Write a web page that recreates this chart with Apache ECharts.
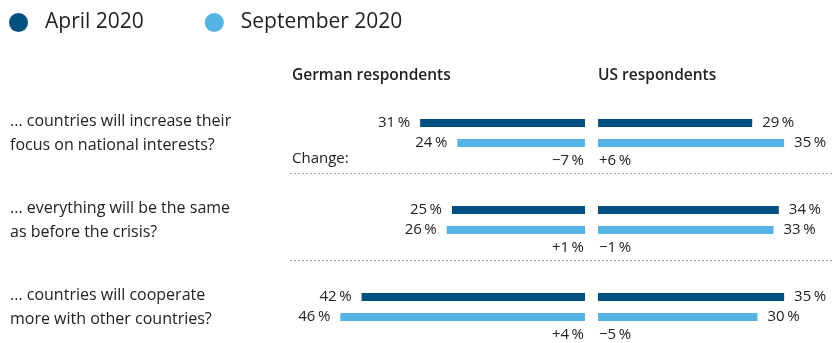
<!DOCTYPE html>
<html>
<head>
<meta charset="utf-8">
<script src="https://cdn.jsdelivr.net/npm/echarts@6/dist/echarts.min.js"></script>
<style>
  html, body { margin: 0; padding: 0; background: #ffffff; }
  #chart { width: 832px; height: 343px; }
</style>
</head>
<body>
<div id="chart"></div>
<script>
// Survey questions (one per row)
const questions = [
  '... countries will increase their\nfocus on national interests?',
  '... everything will be the same\nas before the crisis?',
  '... countries will cooperate\nmore with other countries?'
];
const periods = ['April 2020', 'September 2020'];
const panelTitles = ['German respondents', 'US respondents'];
const changeCaption = 'Change:';

// Shares in percent
const germanApril = [31, 25, 42];
const germanSeptember = [24, 26, 46];
const usApril = [29, 34, 35];
const usSeptember = [35, 33, 30];

const DARK = '#00507f';
const LIGHT = '#56b4e5';
const TEXT = '#222222';
const FONT = '"Open Sans", "Noto Sans", sans-serif';

const pct = v => v + '\u2009%';
const signed = v => (v > 0 ? '+' : v < 0 ? '\u2212' : '') + Math.abs(v) + '\u2009%';
const diff = (a, b) => b.map((v, i) => v - a[i]);
const germanChange = diff(germanApril, germanSeptember);
const usChange = diff(usApril, usSeptember);

const chart = echarts.init(document.getElementById('chart'), null, { renderer: 'canvas' });

// Row centres sit on the category ticks (boundaryGap off)
const firstRow = 133;
const rowStep = 87;
const pxPerPoint = 5.32;
const germanMax = 50;
const usMax = 44;
const germanZero = 585;
const usZero = 598;

function barSeries(name, data, axisIndex, color, side) {
  return {
    type: 'bar',
    name: name,
    xAxisIndex: axisIndex,
    yAxisIndex: axisIndex,
    data: data,
    barWidth: 8,
    barGap: '150%',
    itemStyle: { color: color },
    label: {
      show: true,
      position: side,
      distance: 10,
      formatter: p => pct(p.value),
      color: TEXT,
      fontFamily: FONT,
      fontSize: 15
    },
    silent: true
  };
}

function changeSeries(values, axisIndex, side) {
  return {
    type: 'scatter',
    xAxisIndex: axisIndex,
    yAxisIndex: axisIndex,
    symbolSize: 0,
    data: values.map((v, i) => [0, i, v]),
    label: {
      show: true,
      position: side,
      distance: 1,
      offset: [0, 28],
      formatter: p => signed(p.value[2]),
      color: TEXT,
      opacity: 1,
      fontFamily: FONT,
      fontSize: 15
    },
    silent: true
  };
}

const option = {
  animation: false,
  backgroundColor: '#ffffff',
  textStyle: { fontFamily: FONT },
  legend: {
    data: periods,
    left: 4,
    top: 7,
    icon: 'circle',
    itemWidth: 19,
    itemHeight: 19,
    itemGap: 61,
    selectedMode: false,
    textStyle: { fontSize: 21, color: TEXT, fontFamily: FONT, padding: [0, 0, 0, 12] }
  },
  title: [
    { text: panelTitles[0], left: 287, top: 63, textStyle: { fontSize: 15.5, fontWeight: 600, color: TEXT, fontFamily: FONT } },
    { text: panelTitles[1], left: 593, top: 63, textStyle: { fontSize: 15.5, fontWeight: 600, color: TEXT, fontFamily: FONT } }
  ],
  grid: [
    { left: germanZero - germanMax * pxPerPoint, width: germanMax * pxPerPoint, top: firstRow, height: rowStep * (questions.length - 1) },
    { left: usZero, width: usMax * pxPerPoint - 0.1, top: firstRow, height: rowStep * (questions.length - 1) }
  ],
  xAxis: [
    { type: 'value', gridIndex: 0, min: 0, max: germanMax, inverse: true, show: false },
    { type: 'value', gridIndex: 1, min: 0, max: usMax, show: false }
  ],
  yAxis: [
    {
      type: 'category', gridIndex: 0, data: questions, inverse: true, position: 'left',
      boundaryGap: false,
      axisLine: { show: false }, axisTick: { show: false }, splitLine: { show: false },
      axisLabel: {
        margin: germanZero - germanMax * pxPerPoint - 10,
        align: 'left',
        fontSize: 16,
        lineHeight: 24,
        color: TEXT,
        fontFamily: FONT
      }
    },
    {
      type: 'category', gridIndex: 1, data: questions, inverse: true,
      boundaryGap: false, show: false
    }
  ],
  series: [
    barSeries(periods[0], germanApril, 0, DARK, 'left'),
    barSeries(periods[1], germanSeptember, 0, LIGHT, 'left'),
    barSeries(periods[0], usApril, 1, DARK, 'right'),
    barSeries(periods[1], usSeptember, 1, LIGHT, 'right'),
    changeSeries(germanChange, 0, 'left'),
    changeSeries(usChange, 1, 'right')
  ]
};

chart.setOption(option);

// Caption for the change row and dashed separators between question blocks
function drawDecorations() {
  const rowY = i => chart.convertToPixel({ yAxisIndex: 0 }, i);
  const els = [{
    type: 'text',
    left: 292,
    top: rowY(0) + 28 - 10,
    style: { text: changeCaption, fill: TEXT, fontSize: 15, fontFamily: FONT }
  }];
  for (let i = 0; i < questions.length - 1; i++) {
    const y = Math.round(rowY(i) + 39.5) + 0.5;
    els.push({
      type: 'line',
      shape: { x1: 290, y1: y, x2: 832, y2: y },
      style: { stroke: '#a0a0a0', lineWidth: 1, lineDash: [2, 2] },
      silent: true
    });
  }
  chart.setOption({ graphic: els });
}
drawDecorations();
</script>
</body>
</html>
